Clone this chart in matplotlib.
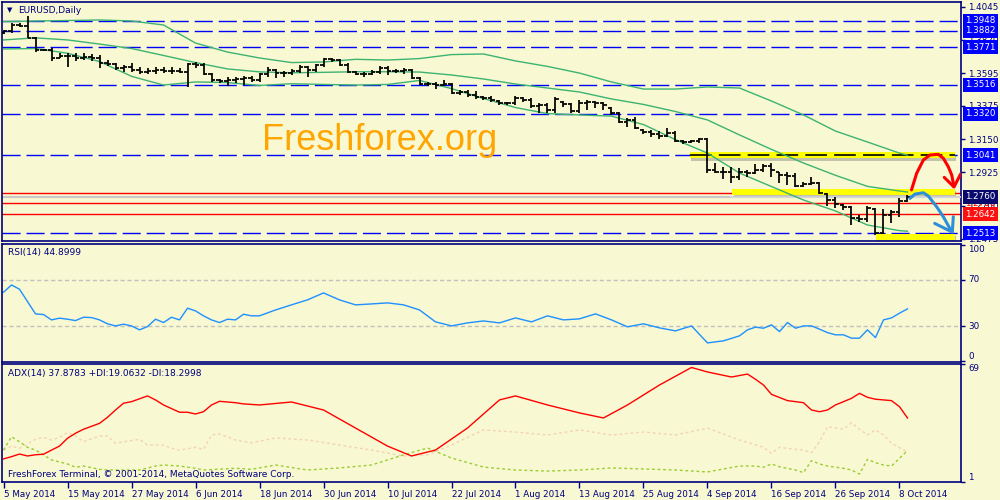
import numpy as np
import pandas as pd
import matplotlib
matplotlib.use('Agg')
import matplotlib.pyplot as plt
import matplotlib.patheffects as pe
from matplotlib import transforms

BG = '#F8F8D2'
NAVY = '#00007F'

# ---- EURUSD daily bars, 5 May 2014 - 9 Oct 2014 (one per business day)
opens = [1.3865, 1.3880, 1.3921, 1.3914, 1.3833, 1.3752, 1.3752, 1.3698, 1.3711, 1.3711,
         1.3698, 1.3705, 1.3698, 1.3664, 1.3657, 1.3630, 1.3637, 1.3617, 1.3603, 1.3610,
         1.3617, 1.3610, 1.3610, 1.3603, 1.3657, 1.3651, 1.3590, 1.3549, 1.3542, 1.3549,
         1.3556, 1.3563, 1.3549, 1.3590, 1.3617, 1.3596, 1.3596, 1.3610, 1.3637, 1.3617,
         1.3651, 1.3691, 1.3684, 1.3651, 1.3603, 1.3590, 1.3590, 1.3603, 1.3630, 1.3610,
         1.3610, 1.3617, 1.3563, 1.3522, 1.3522, 1.3515, 1.3522, 1.3461, 1.3468, 1.3448,
         1.3434, 1.3428, 1.3410, 1.3394, 1.3394, 1.3428, 1.3414, 1.3373, 1.3380, 1.3346,
         1.3400, 1.3387, 1.3340, 1.3394, 1.3400, 1.3394, 1.3360, 1.3326, 1.3265, 1.3279,
         1.3211, 1.3198, 1.3184, 1.3171, 1.3191, 1.3137, 1.3130, 1.3137, 1.3150, 1.2941,
         1.2927, 1.2927, 1.2893, 1.2927, 1.2920, 1.2941, 1.2968, 1.2927, 1.2907, 1.2900,
         1.2833, 1.2846, 1.2853, 1.2779, 1.2738, 1.2704, 1.2691, 1.2616, 1.2610, 1.2677,
         1.2515, 1.2636, 1.2657, 1.2731]
highs = [1.3887, 1.3934, 1.3934, 1.3982, 1.3840, 1.3759, 1.3765, 1.3732, 1.3732, 1.3732,
         1.3732, 1.3725, 1.3718, 1.3684, 1.3664, 1.3651, 1.3664, 1.3637, 1.3630, 1.3637,
         1.3637, 1.3637, 1.3630, 1.3664, 1.3671, 1.3664, 1.3596, 1.3556, 1.3569, 1.3569,
         1.3576, 1.3576, 1.3596, 1.3637, 1.3622, 1.3610, 1.3624, 1.3651, 1.3642, 1.3657,
         1.3698, 1.3698, 1.3688, 1.3664, 1.3610, 1.3603, 1.3617, 1.3644, 1.3644, 1.3624,
         1.3630, 1.3624, 1.3569, 1.3536, 1.3536, 1.3549, 1.3529, 1.3481, 1.3481, 1.3475,
         1.3440, 1.3441, 1.3414, 1.3400, 1.3441, 1.3432, 1.3428, 1.3394, 1.3394, 1.3434,
         1.3407, 1.3394, 1.3414, 1.3414, 1.3407, 1.3400, 1.3365, 1.3330, 1.3292, 1.3299,
         1.3215, 1.3211, 1.3204, 1.3225, 1.3204, 1.3144, 1.3144, 1.3157, 1.3157, 1.2988,
         1.2961, 1.2961, 1.2954, 1.2941, 1.2981, 1.2981, 1.2988, 1.2930, 1.2927, 1.2920,
         1.2860, 1.2893, 1.2860, 1.2785, 1.2758, 1.2710, 1.2697, 1.2636, 1.2697, 1.2685,
         1.2677, 1.2670, 1.2751, 1.2772]
lows = [1.3860, 1.3867, 1.3907, 1.3833, 1.3738, 1.3745, 1.3678, 1.3695, 1.3637, 1.3678,
        1.3684, 1.3678, 1.3630, 1.3644, 1.3617, 1.3603, 1.3603, 1.3590, 1.3590, 1.3590,
        1.3596, 1.3590, 1.3596, 1.3502, 1.3630, 1.3583, 1.3536, 1.3529, 1.3509, 1.3529,
        1.3515, 1.3536, 1.3536, 1.3569, 1.3563, 1.3569, 1.3583, 1.3596, 1.3569, 1.3603,
        1.3637, 1.3671, 1.3644, 1.3596, 1.3583, 1.3569, 1.3583, 1.3590, 1.3583, 1.3596,
        1.3590, 1.3556, 1.3515, 1.3509, 1.3488, 1.3509, 1.3455, 1.3448, 1.3434, 1.3421,
        1.3414, 1.3400, 1.3380, 1.3380, 1.3380, 1.3400, 1.3360, 1.3326, 1.3326, 1.3326,
        1.3367, 1.3326, 1.3326, 1.3346, 1.3360, 1.3346, 1.3313, 1.3258, 1.3231, 1.3218,
        1.3184, 1.3164, 1.3150, 1.3164, 1.3130, 1.3117, 1.3123, 1.3123, 1.2920, 1.2920,
        1.2880, 1.2853, 1.2873, 1.2893, 1.2915, 1.2927, 1.2893, 1.2853, 1.2839, 1.2826,
        1.2826, 1.2842, 1.2779, 1.2697, 1.2684, 1.2670, 1.2569, 1.2589, 1.2589, 1.2501,
        1.2510, 1.2582, 1.2623, 1.2724]
closes = [1.3880, 1.3921, 1.3914, 1.3833, 1.3752, 1.3752, 1.3698, 1.3711, 1.3711, 1.3698,
          1.3705, 1.3698, 1.3664, 1.3657, 1.3630, 1.3637, 1.3617, 1.3603, 1.3610, 1.3617,
          1.3610, 1.3610, 1.3603, 1.3657, 1.3651, 1.3590, 1.3549, 1.3542, 1.3549, 1.3556,
          1.3563, 1.3549, 1.3590, 1.3617, 1.3596, 1.3596, 1.3610, 1.3637, 1.3617, 1.3651,
          1.3691, 1.3684, 1.3651, 1.3603, 1.3590, 1.3590, 1.3603, 1.3630, 1.3610, 1.3610,
          1.3617, 1.3563, 1.3522, 1.3522, 1.3515, 1.3522, 1.3461, 1.3468, 1.3448, 1.3434,
          1.3428, 1.3414, 1.3394, 1.3394, 1.3428, 1.3414, 1.3373, 1.3380, 1.3346, 1.3421,
          1.3387, 1.3340, 1.3394, 1.3400, 1.3394, 1.3380, 1.3326, 1.3265, 1.3279, 1.3225,
          1.3198, 1.3184, 1.3171, 1.3191, 1.3137, 1.3130, 1.3137, 1.3150, 1.2941, 1.2927,
          1.2927, 1.2893, 1.2927, 1.2920, 1.2941, 1.2968, 1.2941, 1.2907, 1.2900, 1.2833,
          1.2846, 1.2853, 1.2785, 1.2738, 1.2711, 1.2691, 1.2616, 1.2610, 1.2684, 1.2515,
          1.2636, 1.2657, 1.2731, 1.2760]

# ---- Bollinger bands (every 4th bar)
bb_idx = [0, 4, 8, 12, 16, 20, 24, 28, 32, 36, 40, 44, 48, 52, 56, 60, 64, 68, 72, 76,
          80, 84, 88, 92, 96, 100, 104, 108, 112, 113]
bb_upper = [1.3944, 1.3948, 1.3951, 1.3955, 1.3948, 1.3921, 1.3799, 1.3738, 1.3698, 1.3667,
            1.3671, 1.3689, 1.3684, 1.3694, 1.3721, 1.3725, 1.3678, 1.3641, 1.3596, 1.3536,
            1.3488, 1.3488, 1.3502, 1.3495, 1.3407, 1.3313, 1.3204, 1.3130, 1.3055, 1.3041]
bb_mid = [1.3820, 1.3834, 1.3820, 1.3792, 1.3762, 1.3715, 1.3667, 1.3624, 1.3604, 1.3598,
          1.3601, 1.3605, 1.3605, 1.3603, 1.3583, 1.3556, 1.3522, 1.3495, 1.3468, 1.3421,
          1.3384, 1.3336, 1.3279, 1.3178, 1.3080, 1.2988, 1.2905, 1.2830, 1.2799, 1.2792]
bb_lower = [1.3759, 1.3762, 1.3730, 1.3674, 1.3574, 1.3515, 1.3536, 1.3532, 1.3512, 1.3524,
            1.3519, 1.3515, 1.3519, 1.3546, 1.3491, 1.3424, 1.3363, 1.3322, 1.3313, 1.3305,
            1.3248, 1.3146, 1.3055, 1.2920, 1.2829, 1.2738, 1.2664, 1.2569, 1.2531, 1.2527]

# ---- RSI(14)
rsi_idx = list(range(0, 33)) + list(range(34, 93, 2)) + list(range(93, 114))
rsi_val = [59.3, 65.6, 61.9, 51.2, 40.6, 40.0, 35.4, 36.9, 36.0, 34.8, 37.7, 37.4, 35.4, 32.0,
           30.2, 31.7, 30.2, 26.8, 29.6, 36.0, 33.1, 37.7, 35.4, 45.5, 43.2, 38.9, 35.4, 33.1,
           36.0, 35.4, 40.3, 38.9, 38.9,
           44.0, 48.4, 52.7, 58.7, 52.7, 48.4, 49.2, 50.1, 48.4, 44.0, 33.7, 30.2, 32.8, 34.5,
           32.8, 37.1, 33.7, 38.9, 35.4, 36.3, 40.6, 35.4, 29.4, 32.0, 28.5, 25.9, 30.2, 15.5,
           17.3, 21.6,
           26.8, 29.1, 28.2, 31.1, 25.3, 33.1, 28.2, 30.2, 30.2, 27.4, 24.4, 22.5, 22.5, 19.6,
           19.6, 26.8, 20.1, 35.4, 37.1, 41.2, 44.9]

# ---- ADX(14), +DI, -DI
adx_idx = [0, 1, 2, 3, 4, 5, 6, 7, 8, 9, 10, 12, 13, 14, 15, 16, 18, 19, 20, 22, 23, 24, 25,
           26, 27, 29, 30, 32, 36, 40, 44, 48, 51, 54, 58, 62, 64, 68, 72, 75, 78, 82, 86, 88,
           91, 93, 94, 95, 96, 98, 100, 101, 102, 103, 104, 106, 107, 108, 109, 111, 112, 113]
adx_val = [14.3, 15.6, 17.1, 16.0, 16.7, 17.0, 19.4, 21.7, 26.2, 29.1, 31.4, 34.8, 38.3, 42.5,
           46.4, 47.3, 50.6, 48.3, 45.4, 41.2, 41.2, 40.2, 41.5, 45.4, 47.5, 46.7, 46.0, 45.4,
           47.1, 42.5, 32.1, 21.7, 16.0, 19.4, 32.1, 48.3, 50.6, 45.4, 40.8, 37.9, 45.4, 56.9,
           67.0, 64.4, 61.5, 63.2, 60.2, 56.9, 51.5, 47.9, 46.7, 42.5, 41.5, 42.5, 45.4, 49.2,
           52.1, 49.8, 48.7, 47.9, 44.4, 37.9]
pdi_idx = [0, 1, 2, 3, 4, 5, 6, 8, 9, 10, 12, 13, 15, 17, 19, 20, 22, 24, 25, 29, 31, 34, 38,
           42, 46, 50, 53, 56, 60, 64, 68, 72, 76, 80, 84, 88, 92, 94, 95, 96, 97, 99, 100, 101,
           102, 103, 105, 106, 107, 108, 109, 110, 111, 112, 113]
pdi_val = [19.4, 27.1, 24.2, 21.0, 19.4, 16.6, 13.7, 11.4, 9.5, 10.2, 8.3, 7.9, 7.9, 7.9, 10.2,
           10.8, 10.2, 8.9, 7.9, 8.9, 8.3, 10.8, 7.9, 9.1, 10.8, 16.6, 20.6, 14.8, 9.6, 7.9, 7.3,
           7.9, 9.1, 8.5, 7.9, 6.8, 10.2, 10.2, 9.5, 11.4, 9.8, 7.9, 6.4, 13.3, 11.4, 10.2, 8.9,
           7.9, 5.6, 14.1, 12.1, 10.8, 10.2, 14.7, 19.1]
mdi_idx = [0, 1, 2, 4, 5, 6, 7, 8, 9, 10, 12, 13, 14, 15, 17, 18, 20, 21, 22, 24, 25, 26, 27,
           29, 31, 34, 38, 42, 46, 50, 53, 56, 60, 64, 68, 72, 76, 80, 84, 88, 92, 95, 96, 97,
           99, 100, 101, 102, 103, 105, 106, 107, 108, 109, 110, 111, 113]
mdi_val = [19.4, 21.7, 20.4, 25.6, 26.8, 25.2, 26.8, 29.4, 27.5, 24.2, 27.5, 27.5, 23.3, 24.2,
           25.6, 22.3, 22.3, 20.4, 19.4, 21.0, 19.8, 28.1, 28.7, 25.2, 23.6, 26.4, 25.2, 22.3,
           19.4, 16.0, 16.6, 22.3, 31.0, 29.8, 28.1, 31.0, 28.1, 29.8, 28.1, 32.1, 25.2, 21.0,
           17.5, 21.0, 19.8, 19.4, 17.9, 24.2, 32.9, 31.4, 35.2, 31.4, 28.1, 31.0, 28.1, 23.3,
           18.3]

# ---- levels and drawings
blue_levels = [1.3948, 1.3882, 1.3771, 1.3516, 1.3320, 1.3041, 1.2513]
red_levels = [1.2783, 1.2716, 1.2642]
bid = 1.2760
price_ticks = [1.4045, 1.3820, 1.3595, 1.3375, 1.3150, 1.2925, 1.2700, 1.2475]
zone_start = [85.8, 91.1, 109.1]
zone_end = 118.9
zone_price = [1.3041, 1.2795, 1.2488]
red_arrow_x = [113.5, 114.15, 114.98, 115.81, 116.85, 117.48, 118.1, 118.53, 118.81]
red_arrow_y = [1.2806, 1.2919, 1.3008, 1.3042, 1.3047, 1.3020, 1.2963, 1.2907, 1.2830]
red_head_x = [117.6, 118.81, 119.65]
red_head_y = [1.2891, 1.2826, 1.2914]
blue_arrow_x = [113.31, 113.94, 114.98, 115.6, 116.65, 117.48, 118.53]
blue_arrow_y = [1.2749, 1.2778, 1.2787, 1.2765, 1.2692, 1.2625, 1.2523]
blue_head_x = [116.4, 118.6, 118.73]
blue_head_y = [1.2580, 1.2521, 1.2625]

dates = pd.bdate_range('2014-05-05', periods=len(closes))
idx = np.arange(len(closes))
XLIM = (-0.19, 119.69)

fig = plt.figure(figsize=(10, 5), dpi=100)
fig.patch.set_facecolor(BG)
ax = fig.add_axes([0.002, 0.518, 0.959, 0.478])
ax_rsi = fig.add_axes([0.002, 0.276, 0.959, 0.236])
ax_adx = fig.add_axes([0.002, 0.036, 0.959, 0.236])

for a in (ax, ax_rsi, ax_adx):
    a.set_facecolor(BG)
    a.set_xlim(*XLIM)
    for s in a.spines.values():
        s.set_color(NAVY)
        s.set_linewidth(1.2)
    a.yaxis.tick_right()
    a.tick_params(axis='y', colors=NAVY, labelcolor=NAVY, labelsize=6.3,
                  length=3, width=1, pad=2)
    a.tick_params(axis='x', bottom=False, labelbottom=False)

# ----- main price panel
ax.set_ylim(1.24609, 1.40764)
ax.set_yticks(price_ticks)
ax.set_yticklabels([f'{p:.4f}' for p in price_ticks])

for p in blue_levels:
    ax.axhline(p, color='#0000FF', lw=1, dashes=(13, 4.3), zorder=1)
for p in red_levels:
    ax.axhline(p, color='#FF0000', lw=1, zorder=1)
ax.axhline(bid, color='#C8C8C8', lw=1.5, zorder=1)

shadow = [pe.SimpleLineShadow(offset=(1, -1.8), shadow_color='#606060', alpha=0.35),
          pe.Normal()]
for x0, p in zip(zone_start, zone_price):
    ax.plot([x0, zone_end], [p, p], color='#FFFF00', lw=4.3, solid_capstyle='butt',
            path_effects=shadow, zorder=2)
ax.plot([zone_start[0], zone_end], [zone_price[0]] * 2, color='black', lw=1.2,
        dashes=(13, 4.3), zorder=3)
ax.axhline(bid, xmin=0.76, color='#D8D8D8', lw=1.2, zorder=3)

ax.plot(bb_idx, bb_upper, color='#3CB371', lw=1, zorder=3)
ax.plot(bb_idx, bb_mid, color='#3CB371', lw=1, zorder=3)
ax.plot(bb_idx, bb_lower, color='#3CB371', lw=1, zorder=3)

ax.vlines(idx, lows, highs, color='black', lw=1.25, zorder=4)
ax.hlines(opens, idx - 0.42, idx, color='black', lw=1.25, zorder=4)
ax.hlines(closes, idx, idx + 0.42, color='black', lw=1.25, zorder=4)

ax.plot(red_arrow_x, red_arrow_y, color='#FF0000', lw=2.2, solid_capstyle='round', zorder=5)
ax.plot(red_head_x, red_head_y, color='#FF0000', lw=2.2, solid_capstyle='round', zorder=5)
ax.plot(blue_arrow_x, blue_arrow_y, color='#2E8FD8', lw=2.2, solid_capstyle='round', zorder=5)
ax.plot(blue_head_x, blue_head_y, color='#2E8FD8', lw=2.2, solid_capstyle='round', zorder=5)

ax.text(0.0085, 0.966, '\u25BC', transform=ax.transAxes, fontsize=5, color=NAVY,
        ha='center', va='center')
ax.text(0.0167, 0.966, 'EURUSD,Daily', transform=ax.transAxes, fontsize=6.5,
        color=NAVY, ha='left', va='center')
fig.text(0.262, 0.70, 'Freshforex.org', color='#FFA500', fontsize=26,
         family='Liberation Sans', ha='left', va='baseline')

ytr = transforms.blended_transform_factory(ax.transAxes, ax.transData)
ax.text(1.0045, red_levels[1], f'{red_levels[1]:.4f}', transform=ytr, color='#FF0000',
        fontsize=6.3, ha='left', va='center', zorder=9)
box_levels = blue_levels + [bid, red_levels[2]]
box_colors = ['#0000FF'] * len(blue_levels) + ['#0A0A6E', '#FF1010']
for p, fc in zip(box_levels, box_colors):
    ax.text(1.0045, p, f'{p:.4f}', transform=ytr, color='white', fontsize=6.3,
            ha='left', va='center', zorder=10,
            bbox=dict(boxstyle='square,pad=0.3', fc=fc, ec='none'))

# ----- RSI panel
ax_rsi.set_ylim(-1, 101)
ax_rsi.axhline(70, color='#C0C0C0', lw=1, dashes=(3, 2))
ax_rsi.axhline(30, color='#C0C0C0', lw=1, dashes=(3, 2))
ax_rsi.plot(rsi_idx, rsi_val, color='#1E90FF', lw=1)
ax_rsi.set_yticks([100, 70, 30, 0])
ax_rsi.set_yticklabels(['100', '70', '30', '0'])
for lab, va in zip(ax_rsi.get_yticklabels(), ['top', 'center', 'center', 'bottom']):
    lab.set_va(va)
ax_rsi.text(0.006, 0.926, 'RSI(14) 44.8999', transform=ax_rsi.transAxes, fontsize=6.5,
            color=NAVY, ha='left', va='center')

# ----- ADX panel
ax_adx.set_ylim(1, 69)
ax_adx.plot(mdi_idx, mdi_val, color='#F5D2B4', lw=1, dashes=(2, 2))
ax_adx.plot(pdi_idx, pdi_val, color='#9ACD32', lw=1, dashes=(2, 2))
ax_adx.plot(adx_idx, adx_val, color='#FF0000', lw=1)
ax_adx.set_yticks([69, 1])
ax_adx.set_yticklabels(['69', '1'])
for lab, va in zip(ax_adx.get_yticklabels(), ['top', 'bottom']):
    lab.set_va(va)
ax_adx.text(0.006, 0.921, 'ADX(14) 37.8783 +DI:19.0632 -DI:18.2998',
            transform=ax_adx.transAxes, fontsize=6.5, color=NAVY, ha='left', va='center')
ax_adx.text(0.006, 0.06, 'FreshForex Terminal, \u00a9 2001-2014, MetaQuotes Software Corp.',
            transform=ax_adx.transAxes, fontsize=6.5, color=NAVY, ha='left', va='center')

tick_pos = list(range(0, len(closes), 8))
ax_adx.set_xticks(tick_pos)
ax_adx.set_xticklabels([f'{dates[i].day} {dates[i].strftime("%b %Y")}' for i in tick_pos],
                       ha='left')
ax_adx.tick_params(axis='x', bottom=True, labelbottom=True, direction='out', length=4,
                   width=1, colors=NAVY, labelcolor=NAVY, labelsize=6.3, pad=2)

fig.savefig('out.png', dpi=100, facecolor=BG)
